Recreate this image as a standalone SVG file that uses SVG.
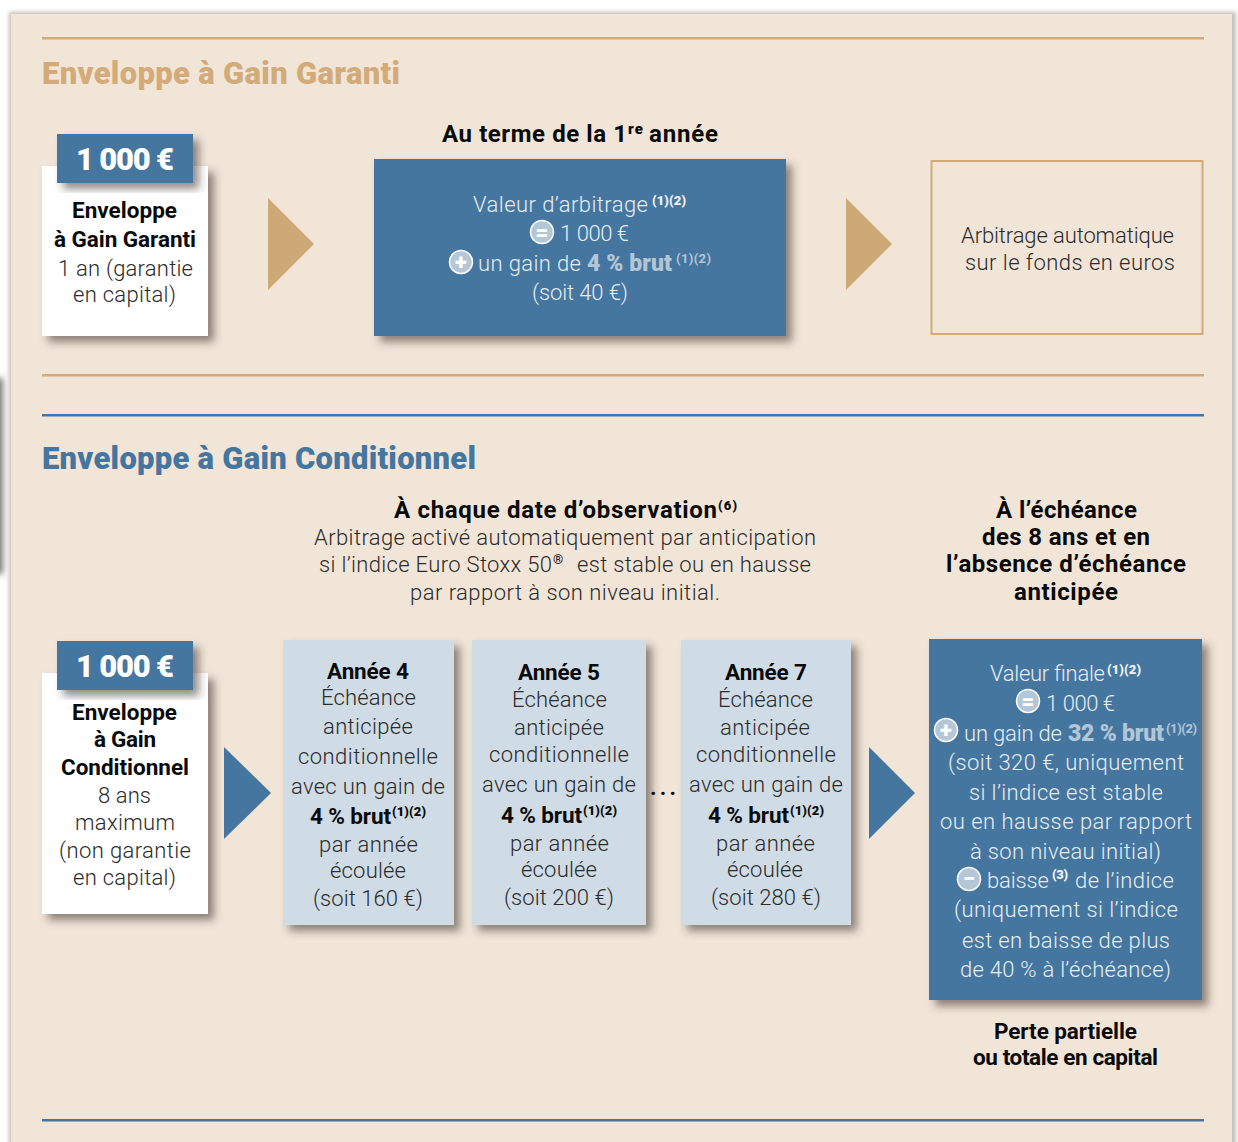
<svg xmlns="http://www.w3.org/2000/svg" width="1238" height="1142" viewBox="0 0 1238 1142">
<style>
text{font-family:Roboto,"Liberation Sans",sans-serif}
.b{font-weight:700;font-size:22.5px;fill:#0a0a0a}
.t{font-weight:700;font-size:24px;fill:#0a0a0a}
.l{font-weight:300;font-size:22px;fill:#2b2b2b}
.w{font-weight:300;font-size:22px;fill:#e6edf3}
.h{font-weight:900;font-size:31px}
.m{font-weight:900;font-size:31px;fill:#fff}
.s{font-weight:900;font-size:13px;fill:#0a0a0a}
.sw{font-weight:900;font-size:13px;fill:#f0f4f7}
.sl{font-weight:700;font-size:13px;fill:#b3c6d7}
.g{font-weight:900;font-size:23px;fill:#b3c6d7}
.i{font-weight:900;font-size:22px;fill:#fff;text-anchor:middle}
.c{fill:#b5c6d6;stroke:#fff;stroke-width:1.5}
.blue{fill:#44769f}
.pale{fill:#cfdce6}
.sh{filter:url(#shadow)}
.tan{fill:#cda975}
</style>
<defs>
<filter id="shadow" x="-20%" y="-20%" width="140%" height="140%"><feDropShadow dx="6" dy="6" stdDeviation="4" flood-color="#3a3225" flood-opacity=".55"/></filter>
<filter id="soft" x="-50%" y="-10%" width="200%" height="120%"><feGaussianBlur stdDeviation="3"/></filter>
<filter id="edge" x="-2%" y="-2%" width="104%" height="104%"><feGaussianBlur stdDeviation="2"/></filter>
</defs>
<rect width="1238" height="1142" fill="#fff"/>
<g id="background">
<rect x="-6" y="378" width="9" height="196" fill="#777" filter="url(#soft)"/>
<rect x="9" y="12" width="1227" height="1140" fill="#a8a39d" opacity=".7" filter="url(#edge)"/>
<rect x="11" y="14" width="1221" height="1128" fill="#f1e5d8"/>
<rect x="42" y="37" width="1162" height="2.5" fill="#d2ab78"/>
<rect x="42" y="374" width="1162" height="2.5" fill="#d2ab78"/>
<rect x="42" y="414" width="1162" height="2.5" fill="#44769f"/>
<rect x="42" y="1119" width="1162" height="2.5" fill="#44769f"/>
</g>
<g id="titles">
<text class="h" x="42" y="84" textLength="358" fill="#d2ab78">Enveloppe à Gain Garanti</text>
<text class="h" x="42" y="469" textLength="434" fill="#44769f">Enveloppe à Gain Conditionnel</text>
<text class="t" x="442" y="142" textLength="185">Au terme de la 1</text>
<text class="s" x="628" y="134" style="font-size:15px" textLength="15">re</text>
<text class="t" x="649" y="142" textLength="69">année</text>
<text class="t" x="394" y="518" textLength="323">À chaque date d’observation</text>
<text class="s" x="718" y="510" textLength="19">(6)</text>
<text class="l" x="314" y="545" textLength="502">Arbitrage activé automatiquement par anticipation</text>
<text class="l" x="319" y="572" textLength="233">si l’indice Euro Stoxx 50</text>
<text class="s" x="553" y="564" style="font-weight:400">®</text>
<text class="l" x="577" y="572" textLength="234">est stable ou en hausse</text>
<text class="l" x="410" y="600" textLength="310">par rapport à son niveau initial.</text>
<text class="t" x="996" y="518" textLength="141">À l’échéance</text>
<text class="t" x="982" y="545" textLength="168">des 8 ans et en</text>
<text class="t" x="946" y="572" textLength="240">l’absence d’échéance</text>
<text class="t" x="1014" y="600" textLength="104">anticipée</text>
<text class="b" x="994" y="1039" textLength="143">Perte partielle</text>
<text class="b" x="973" y="1065" textLength="185">ou totale en capital</text>
</g>
<g id="connectors">
<polygon class="tan" points="268,198 314,244 268,290"/>
<polygon class="tan" points="846,198 892,244 846,290"/>
<polygon class="blue" points="224,747 271,793 224,839"/>
<polygon class="blue" points="869,747 915,793 869,839"/>
</g>
<g id="node-capital-1">
<rect class="sh" x="42" y="166" width="166" height="170" fill="#fff"/>
<rect class="sh blue" x="57" y="134" width="136" height="49"/>
<text class="m" x="76" y="170" textLength="98">1 000 €</text>
<text class="b" x="72" y="218" textLength="105">Enveloppe</text>
<text class="b" x="54" y="247" textLength="142">à Gain Garanti</text>
<text class="l" x="58" y="276" textLength="135">1 an (garantie</text>
<text class="l" x="73" y="302" textLength="103">en capital)</text>
</g>
<g id="node-arbitrage">
<rect class="sh blue" x="374" y="159" width="412" height="177"/>
<text class="w" x="473" y="212" textLength="175">Valeur d’arbitrage</text>
<text class="sw" x="652" y="205" textLength="34">(1)(2)</text>
<circle class="c" cx="542" cy="232" r="11.5"/><text class="i" x="542" y="240">=</text>
<text class="w" x="560" y="241" textLength="69">1 000 €</text>
<circle class="c" cx="461" cy="262" r="11.5"/><text class="i" x="461" y="270">+</text>
<text class="w" x="478" y="271" textLength="103">un gain de</text>
<text class="g" x="587" y="271" textLength="85">4 % brut</text>
<text class="sl" x="676" y="263" textLength="35">(1)(2)</text>
<text class="w" x="532" y="300" textLength="96">(soit 40 €)</text>
</g>
<g id="node-fonds">
<rect x="931.5" y="161" width="271" height="173" fill="none" stroke="#d2ab78" stroke-width="2"/>
<text class="l" x="961" y="243" textLength="213">Arbitrage automatique</text>
<text class="l" x="965" y="270" textLength="210">sur le fonds en euros</text>
</g>
<g id="node-capital-2">
<rect class="sh" x="42" y="673" width="166" height="241" fill="#fff"/>
<rect class="sh blue" x="57" y="641" width="136" height="49"/>
<text class="m" x="76" y="677" textLength="98">1 000 €</text>
<text class="b" x="72" y="720" textLength="105">Enveloppe</text>
<text class="b" x="94" y="747" textLength="62">à Gain</text>
<text class="b" x="61" y="775" textLength="128">Conditionnel</text>
<text class="l" x="98" y="803" textLength="53">8 ans</text>
<text class="l" x="75" y="830" textLength="100">maximum</text>
<text class="l" x="59" y="858" textLength="132">(non garantie</text>
<text class="l" x="73" y="885" textLength="103">en capital)</text>
</g>
<g id="node-annee-4">
<rect class="sh pale" x="283" y="640" width="171" height="285"/>
<text class="b" x="327" y="679" textLength="82">Année 4</text>
<text class="l" x="321" y="705" textLength="95">Échéance</text>
<text class="l" x="323" y="734" textLength="90">anticipée</text>
<text class="l" x="298" y="764" textLength="140">conditionnelle</text>
<text class="l" x="291" y="794" textLength="154">avec un gain de</text>
<text class="b" x="310" y="824" textLength="81">4 % brut</text>
<text class="s" x="392" y="816" textLength="34">(1)(2)</text>
<text class="l" x="319" y="852" textLength="99">par année</text>
<text class="l" x="330" y="878" textLength="76">écoulée</text>
<text class="l" x="313" y="906" textLength="110">(soit 160 €)</text>
</g>
<g id="node-annee-5">
<rect class="sh pale" x="472" y="640" width="174" height="285"/>
<text class="b" x="518" y="680" textLength="82">Année 5</text>
<text class="l" x="512" y="707" textLength="95">Échéance</text>
<text class="l" x="514" y="735" textLength="90">anticipée</text>
<text class="l" x="489" y="762" textLength="140">conditionnelle</text>
<text class="l" x="482" y="792" textLength="154">avec un gain de</text>
<text class="b" x="501" y="823" textLength="81">4 % brut</text>
<text class="s" x="583" y="815" textLength="34">(1)(2)</text>
<text class="l" x="510" y="851" textLength="99">par année</text>
<text class="l" x="521" y="877" textLength="76">écoulée</text>
<text class="l" x="504" y="905" textLength="110">(soit 200 €)</text>
</g>
<text id="ellipsis" class="b" x="650" y="795" textLength="26">...</text>
<g id="node-annee-7">
<rect class="sh pale" x="681" y="640" width="170" height="285"/>
<text class="b" x="725" y="680" textLength="82">Année 7</text>
<text class="l" x="718" y="707" textLength="95">Échéance</text>
<text class="l" x="720" y="735" textLength="90">anticipée</text>
<text class="l" x="696" y="762" textLength="140">conditionnelle</text>
<text class="l" x="689" y="792" textLength="154">avec un gain de</text>
<text class="b" x="708" y="823" textLength="81">4 % brut</text>
<text class="s" x="790" y="815" textLength="34">(1)(2)</text>
<text class="l" x="716" y="851" textLength="99">par année</text>
<text class="l" x="727" y="877" textLength="76">écoulée</text>
<text class="l" x="711" y="905" textLength="110">(soit 280 €)</text>
</g>
<g id="node-valeur-finale">
<rect class="sh blue" x="929" y="639" width="273" height="361"/>
<text class="w" x="990" y="681" textLength="115">Valeur finale</text>
<text class="sw" x="1107" y="674" textLength="34">(1)(2)</text>
<circle class="c" cx="1028" cy="701" r="11.5"/><text class="i" x="1028" y="709">=</text>
<text class="w" x="1046" y="711" textLength="69">1 000 €</text>
<circle class="c" cx="946" cy="730" r="11.5"/><text class="i" x="946" y="738">+</text>
<text class="w" x="964" y="741" textLength="98">un gain de</text>
<text class="g" x="1068" y="741" textLength="96">32 % brut</text>
<text class="sl" x="1166" y="733" textLength="31">(1)(2)</text>
<text class="w" x="948" y="770" textLength="236">(soit 320 €, uniquement</text>
<text class="w" x="969" y="800" textLength="194">si l’indice est stable</text>
<text class="w" x="940" y="829" textLength="252">ou en hausse par rapport</text>
<text class="w" x="970" y="859" textLength="191">à son niveau initial)</text>
<circle class="c" cx="969" cy="879" r="11.5"/><text class="i" x="969" y="886">−</text>
<text class="w" x="987" y="888" textLength="62">baisse</text>
<text class="sw" x="1052" y="879" textLength="16">(3)</text>
<text class="w" x="1075" y="888" textLength="99">de l’indice</text>
<text class="w" x="954" y="917" textLength="224">(uniquement si l’indice</text>
<text class="w" x="962" y="948" textLength="208">est en baisse de plus</text>
<text class="w" x="960" y="977" textLength="211">de 40 % à l’échéance)</text>
</g>
</svg>
